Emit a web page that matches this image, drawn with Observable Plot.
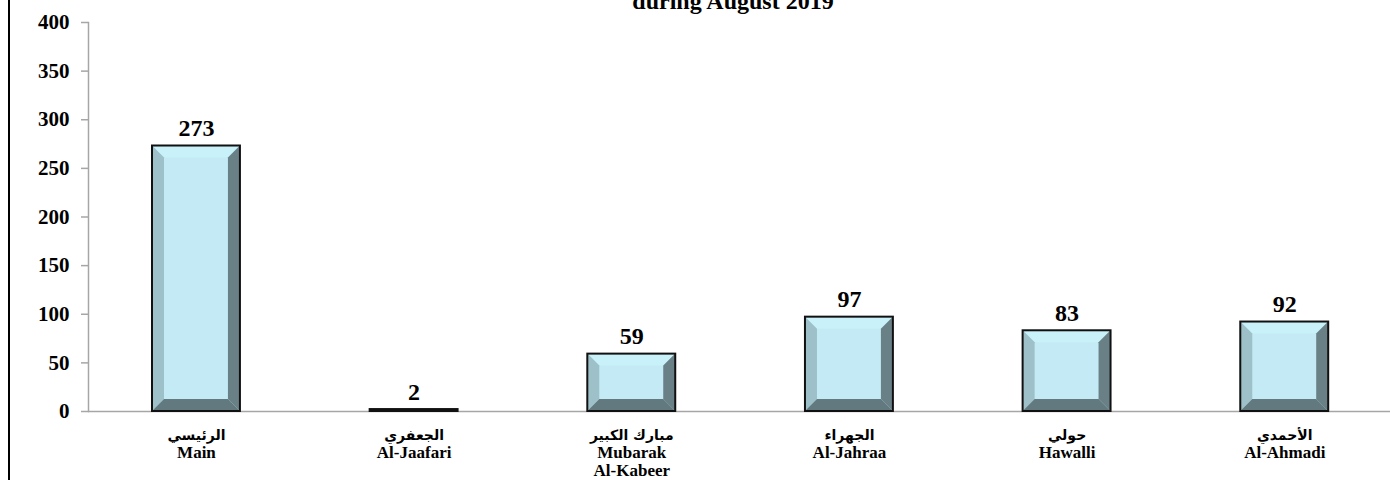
<!DOCTYPE html>
<html>
<head>
<meta charset="utf-8">
<script src="https://cdn.jsdelivr.net/npm/d3@7"></script>
<script src="https://cdn.jsdelivr.net/npm/@observablehq/plot@0.6"></script>
<style>
  html, body { margin: 0; padding: 0; background: #fff; overflow: hidden; }
  #wrap { position: relative; width: 1390px; height: 480px; overflow: hidden; }
  #title { position: absolute; top: -11px; left: 0; width: 1466px; text-align: center;
           font: bold 24px "Liberation Serif", "Times New Roman", serif; line-height: 24px; color: #000; }
  #frameLine { position: absolute; left: 8px; top: 0; width: 1.5px; height: 480px; background: #000; }
  #chart svg { display: block; }
</style>
</head>
<body>
<div id="wrap">
  <div id="chart"></div>
  <div id="title">during August 2019</div>
  <div id="frameLine"></div>
</div>
<script>
const categories = ["Main", "Al-Jaafari", "Mubarak Al-Kabeer", "Al-Jahraa", "Hawalli", "Al-Ahmadi"];
const arabicLabels = ["الرئيسي", "الجعفري", "مبارك الكبير", "الجهراء", "حولي", "الأحمدي"];
const englishLabels = ["Main", "Al-Jaafari", "Mubarak\nAl-Kabeer", "Al-Jahraa", "Hawalli", "Al-Ahmadi"];
const values = [273, 2, 59, 97, 83, 92];
const yTicks = [0, 50, 100, 150, 200, 250, 300, 350, 400];

const data = categories.map((c, i) => ({name: c, value: values[i], ar: arabicLabels[i], en: englishLabels[i]}));

const bevelColors = {center: "#c4ebf5", top: "#c8f1f9", left: "#9dc0c9", right: "#6a8087", bottom: "#637980"};

function bevelRender(index, scales, vals, dims) {
  const ns = "http://www.w3.org/2000/svg";
  const bwRaw = scales.x.bandwidth;
  const bw = typeof bwRaw === "function" ? bwRaw() : bwRaw;
  const g = document.createElementNS(ns, "g");
  for (const i of index) {
    const x0 = vals.x[i], x1 = x0 + bw;
    const yt = Math.min(vals.y1[i], vals.y2[i]), yb = Math.max(vals.y1[i], vals.y2[i]);
    const b = Math.min(12, (yb - yt) / 2, bw / 2);
    const poly = (pts, fill) => {
      const p = document.createElementNS(ns, "polygon");
      p.setAttribute("points", pts.map(q => q.join(",")).join(" "));
      p.setAttribute("fill", fill);
      g.appendChild(p);
    };
    poly([[x0, yt], [x1, yt], [x1, yb], [x0, yb]], bevelColors.center);
    poly([[x0, yt], [x1, yt], [x1 - b, yt + b], [x0 + b, yt + b]], bevelColors.top);
    poly([[x0, yt], [x0 + b, yt + b], [x0 + b, yb - b], [x0, yb]], bevelColors.left);
    poly([[x1, yt], [x1, yb], [x1 - b, yb - b], [x1 - b, yt + b]], bevelColors.right);
    poly([[x0, yb], [x0 + b, yb - b], [x1 - b, yb - b], [x1, yb]], bevelColors.bottom);
    const r = document.createElementNS(ns, "rect");
    r.setAttribute("x", x0); r.setAttribute("y", yt);
    r.setAttribute("width", bw); r.setAttribute("height", yb - yt);
    r.setAttribute("fill", "none"); r.setAttribute("stroke", "#111"); r.setAttribute("stroke-width", 2);
    g.appendChild(r);
  }
  return g;
}

const serif = "'Liberation Serif', 'Times New Roman', serif";

const plot = Plot.plot({
  width: 1390,
  height: 480,
  marginLeft: 88,
  marginRight: 0,
  marginTop: 22,
  marginBottom: 69,
  style: {fontFamily: serif, background: "transparent"},
  x: {domain: categories, range: [86.7, 1393.5], paddingInner: 0.596, paddingOuter: 0.3, round: false, axis: null},
  y: {domain: [0, 400], axis: null},
  marks: [
    Plot.frame({anchor: "left", stroke: "#a6a6a6", strokeWidth: 1.5}),
    Plot.ruleY([0], {stroke: "#a6a6a6", strokeWidth: 1.5}),
    Plot.axisY({ticks: yTicks, tickSize: 7, tickPadding: 12, stroke: "#a6a6a6", strokeWidth: 1.5,
      fontSize: 21, fontWeight: "bold", fill: "#000", label: null}),
    Plot.barY(data, {x: "name", y: "value", render: bevelRender}),
    Plot.text(data, {x: "name", y: "value", text: d => String(d.value), lineAnchor: "bottom", dy: -10,
      fontSize: 24, fontWeight: "bold", fill: "#000"}),
    Plot.text(data, {x: "name", text: "ar", frameAnchor: "bottom", lineAnchor: "middle", dy: 24,
      fontSize: 14, fontWeight: "bold", fill: "#000", fontFamily: "'DejaVu Sans', sans-serif"}),
    Plot.text(data, {x: "name", text: "en", frameAnchor: "bottom", lineAnchor: "top", dy: 33,
      lineHeight: 1.1, fontSize: 17, fontWeight: "bold", fill: "#000"})
  ]
});
document.getElementById("chart").appendChild(plot);
</script>
</body>
</html>
